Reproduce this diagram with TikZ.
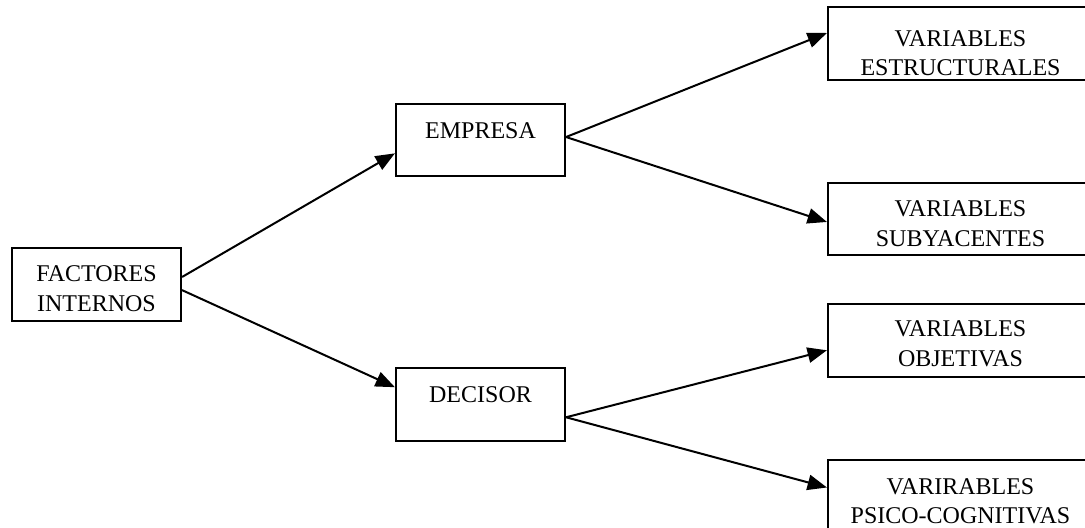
\documentclass[tikz,border=0pt]{standalone}
\usepackage{fontspec}
\setmainfont{Liberation Serif}
\usetikzlibrary{arrows.meta,calc,fit}
\begin{document}
\begin{tikzpicture}[x=0.75pt,y=-0.75pt,
  box/.style={draw, line width=1.6pt, inner sep=0pt},
  lbl/.style={inner sep=0pt, anchor=base, align=center,
    font=\fontsize{18pt}{22pt}\selectfont},
  link/.style={line width=1.5pt, -{Triangle[length=14.5pt,width=11.5pt]}}]
\useasboundingbox (0,0) rectangle (1085,528);

% boxes
\node[box, fit={(12,248) (181,321)}] (fac) {};
\node[box, fit={(396,104) (565,176)}] (emp) {};
\node[box, fit={(396,368) (565,441)}] (dec) {};
\node[box, fit={(828,7) (1093,80)}] (est) {};
\node[box, fit={(828,183) (1093,255)}] (sub) {};
\node[box, fit={(828,304) (1093,377)}] (obj) {};
\node[box, fit={(828,460) (1093,533)}] (psi) {};

% labels (base anchor sits on the last line)
\node[lbl] (facT) at (96.5,311) {FACTORES\\INTERNOS};
\node[lbl] (empT) at (480.5,138) {EMPRESA};
\node[lbl] (decT) at (480.5,402) {DECISOR};
\node[lbl] (estT) at (960.5,75.5) {VARIABLES\\ESTRUCTURALES};
\node[lbl] (subT) at (960.5,246) {VARIABLES\\SUBYACENTES};
\node[lbl] (objT) at (960.5,366) {VARIABLES\\OBJETIVAS};
\node[lbl] (psiT) at (960.5,523.5) {VARIRABLES\\PSICO-COGNITIVAS};

% connectors
\draw[link] ($(fac.north east)!0.40!(fac.south east)$) -- ($(emp.north west)!0.68!(emp.south west)$);
\draw[link] ($(fac.north east)!0.575!(fac.south east)$) -- ($(dec.north west)!0.27!(dec.south west)$);
\draw[link] ($(emp.north east)!0.46!(emp.south east)$) -- ($(est.north west)!0.36!(est.south west)$);
\draw[link] ($(emp.north east)!0.46!(emp.south east)$) -- ($(sub.north west)!0.54!(sub.south west)$);
\draw[link] ($(dec.north east)!0.67!(dec.south east)$) -- ($(obj.north west)!0.63!(obj.south west)$);
\draw[link] ($(dec.north east)!0.67!(dec.south east)$) -- ($(psi.north west)!0.38!(psi.south west)$);
\end{tikzpicture}
\end{document}
